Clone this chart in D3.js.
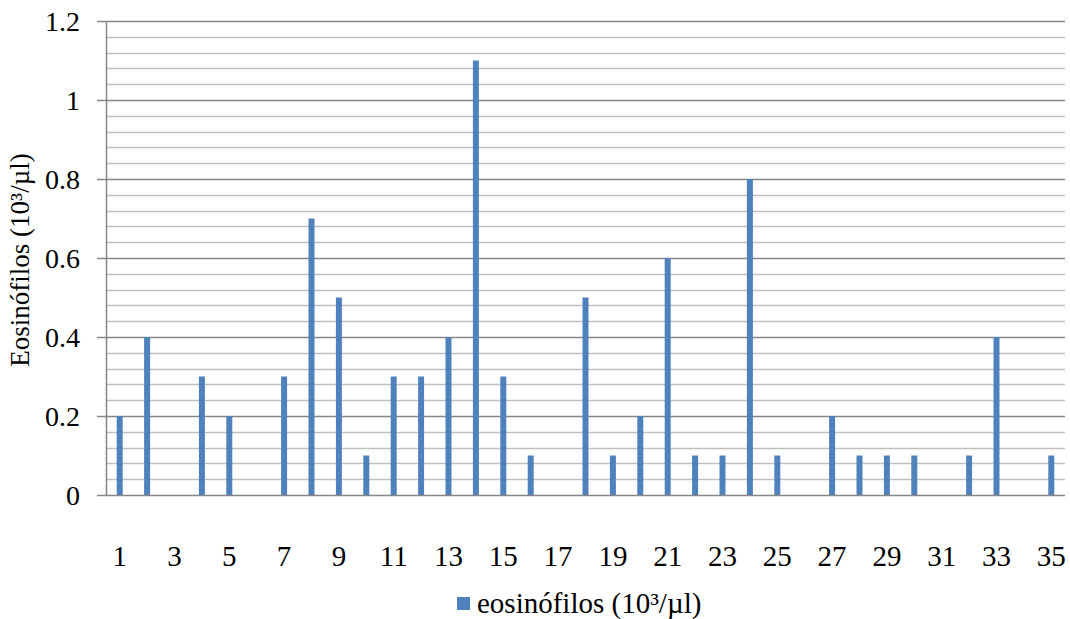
<!DOCTYPE html>
<html>
<head>
<meta charset="utf-8">
<script src="https://cdn.jsdelivr.net/npm/d3@7"></script>
<style>
  body { margin: 0; background: #fff; }
  svg { display: block; }
  text { font-family: "Liberation Serif", "Times New Roman", serif; fill: #000; }
</style>
</head>
<body>
<svg id="chart" width="1070" height="619"></svg>
<script>
// Eosinophil counts per subject
const subjects = d3.range(1, 36).map(String);
const eosinofilos = [0.2, 0.4, 0, 0.3, 0.2, 0, 0.3, 0.7, 0.5, 0.1,
                     0.3, 0.3, 0.4, 1.1, 0.3, 0.1, 0, 0.5, 0.1, 0.2,
                     0.6, 0.1, 0.1, 0.8, 0.1, 0, 0.2, 0.1, 0.1, 0.1,
                     0, 0.1, 0.4, 0, 0.1];
const yTicks = [0, 0.2, 0.4, 0.6, 0.8, 1, 1.2];
const yMinorStep = 0.04;
const xLabelEvery = 2;
const seriesName = "eosinófilos (10³/µl)";
const yTitle = "Eosinófilos (10³/µl)";

const svg = d3.select("#chart");
const margin = { left: 106, right: 5, top: 21, bottom: 124 };
const W = 1070, H = 619;

const x = d3.scaleBand().domain(subjects).range([margin.left, W - margin.right]);
const y = d3.scaleLinear().domain([0, 1.2]).range([H - margin.bottom, margin.top]);

// minor gridlines (every 0.04, skipping the major positions)
const minor = d3.range(1, 30).filter(i => i % 5 !== 0).map(i => i * yMinorStep);
svg.append("g").selectAll("line").data(minor).join("line")
  .attr("x1", margin.left).attr("x2", W - margin.right)
  .attr("y1", d => Math.round(y(d)) + 0.5).attr("y2", d => Math.round(y(d)) + 0.5)
  .attr("stroke", "#bfbfbf").attr("stroke-width", 1.5);

// major gridlines
svg.append("g").selectAll("line").data(yTicks.filter(d => d > 0)).join("line")
  .attr("x1", margin.left - 9).attr("x2", W - margin.right)
  .attr("y1", d => Math.round(y(d)) + 0.5).attr("y2", d => Math.round(y(d)) + 0.5)
  .attr("stroke", "#868686").attr("stroke-width", 1.5);

// bars
const bw = 6;
svg.append("g").selectAll("rect").data(eosinofilos).join("rect")
  .attr("x", (d, i) => x(subjects[i]) + x.bandwidth() / 2 - bw / 2)
  .attr("width", bw)
  .attr("y", d => y(d))
  .attr("height", d => y(0) - y(d))
  .attr("fill", "#4f81bd");

// y axis line
svg.append("line")
  .attr("x1", margin.left + 0.5).attr("x2", margin.left + 0.5)
  .attr("y1", margin.top).attr("y2", y(0))
  .attr("stroke", "#868686").attr("stroke-width", 1.5);

// x axis line
svg.append("line")
  .attr("x1", margin.left - 9).attr("x2", W - margin.right)
  .attr("y1", Math.round(y(0)) + 0.5).attr("y2", Math.round(y(0)) + 0.5)
  .attr("stroke", "#868686").attr("stroke-width", 1.5);

// y tick labels
svg.append("g").selectAll("text").data(yTicks).join("text")
  .attr("x", 80).attr("y", d => y(d))
  .attr("dy", "0.35em")
  .attr("text-anchor", "end")
  .attr("font-size", 28)
  .text(d => d3.format("~g")(d));

// x tick labels
svg.append("g").selectAll("text").data(subjects.filter((d, i) => i % xLabelEvery === 0)).join("text")
  .attr("x", d => x(d) + x.bandwidth() / 2)
  .attr("y", 566)
  .attr("text-anchor", "middle")
  .attr("font-size", 29)
  .text(d => d);

// y axis title
svg.append("text")
  .attr("transform", "translate(29,260) rotate(-90)")
  .attr("text-anchor", "middle")
  .attr("font-size", 27)
  .text(yTitle);

// legend
const legend = svg.append("g").attr("transform", "translate(457,597)");
legend.append("rect").attr("x", 0).attr("y", 0).attr("width", 13).attr("height", 13).attr("fill", "#4f81bd");
legend.append("text").attr("x", 20).attr("y", 16).attr("font-size", 29).text(seriesName);
</script>
</body>
</html>
